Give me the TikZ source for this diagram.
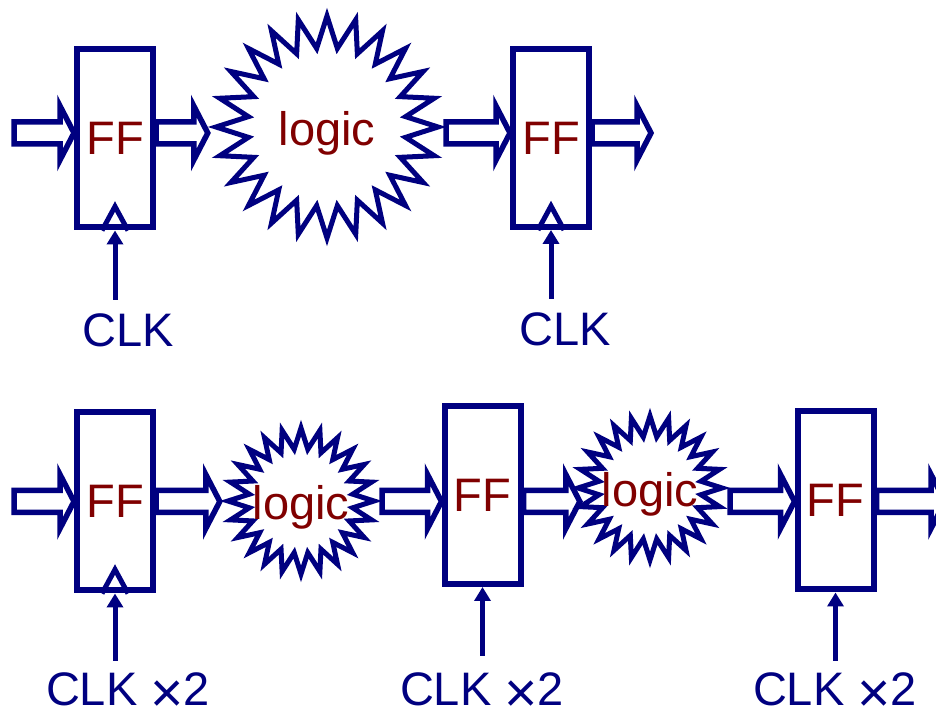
\documentclass[tikz,border=0pt]{standalone}
\usepackage{fontspec}
\setmainfont{Liberation Sans}
\usetikzlibrary{shapes.geometric, arrows.meta, calc}
\definecolor{wirenavy}{RGB}{0,0,128}
\definecolor{textmaroon}{RGB}{128,0,0}
% hollow bus arrow between two points on the same row
\newcommand{\busarrow}[2]{%
  \draw[bus] let \p1=(#1), \p2=(#2) in
    (\x1,\y2+11) -- (\x2-14,\y2+11) -- (\x2-14,\y2+27) -- (\x2,\y2)
    -- (\x2-14,\y2-27) -- (\x2-14,\y2-11) -- (\x1,\y2-11) -- cycle;}
\newcommand{\timestwo}{\raisebox{-7pt}[0pt][0pt]{\fontsize{57}{57}\selectfont ×}2}

\begin{document}
\begin{tikzpicture}[
    x=1pt, y=1pt,
    ffbox/.style={rectangle, draw=wirenavy, line width=6pt, inner sep=0pt,
        minimum width=76pt, minimum height=178pt,
        font=\fontsize{47}{50}\selectfont, text=textmaroon},
    burst/.style={star, star points=24, star point ratio=1.4, draw=wirenavy,
        line width=5pt, inner sep=0pt},
    logictext/.style={font=\fontsize{47}{50}\selectfont, text=textmaroon, yshift=-6pt},
    clk/.style={anchor=base, inner sep=0pt, font=\fontsize{47}{50}\selectfont, text=wirenavy},
    bus/.style={draw=wirenavy, line width=5.5pt},
    clkarrow/.style={-{Triangle[length=14pt,width=16pt]}, draw=wirenavy, line width=5pt},
    clkedge/.style={draw=wirenavy, line width=5pt}
]
\useasboundingbox (0,0) rectangle (936,714);
\clip (0,0) rectangle (936,714);
\coordinate (row1) at (0,581);
\coordinate (row2) at (0,212.5);

% one stage at the normal clock
\node[ffbox] (ff1) at (115,575.5) {FF};
\node[burst, minimum size=222pt, label={[logictext]center:logic}] (logic1) at (327,587) {};
\node[ffbox] (ff2) at (551,576) {FF};
\node[clk] (clk1) at (128,367) {CLK};
\node[clk] (clk2) at (565,368) {CLK};
\coordinate (in1) at (14,581);
\coordinate (out2) at (651,581);
\busarrow{in1}{ff1.west |- row1}
\busarrow{ff1.east |- row1}{logic1.west |- row1}
\busarrow{logic1.east |- row1}{ff2.west |- row1}
\busarrow{ff2.east |- row1}{out2}
\draw[clkedge] ([xshift=-13pt]ff1.south) -- ([yshift=24pt]ff1.south) -- ([xshift=13pt]ff1.south);
\draw[clkedge] ([xshift=-13pt]ff2.south) -- ([yshift=24pt]ff2.south) -- ([xshift=13pt]ff2.south);
\draw[clkarrow] (clk1.north -| ff1.south) ++(0,14) -- (ff1.south);
\draw[clkarrow] (clk2.north -| ff2.south) ++(0,14) -- (ff2.south);

% two stages at double clock
\node[ffbox] (ff3) at (115,212.5) {FF};
\node[burst, minimum size=146pt, label={[logictext]center:logic}] (logic2) at (301,213) {};
\node[ffbox] (ff4) at (482.5,219) {FF};
\node[burst, minimum size=144pt, label={[logictext]center:logic}] (logic3) at (650,226) {};
\node[ffbox] (ff5) at (835.5,213.5) {FF};
\node[clk] (clk3) at (128,8) {CLK \timestwo};
\node[clk] (clk4) at (482,8) {CLK \timestwo};
\node[clk] (clk5) at (835,8) {CLK \timestwo};
\coordinate (in3) at (14,212.5);
\coordinate (out5) at (945,212.5);
\busarrow{in3}{ff3.west |- row2}
\busarrow{ff3.east |- row2}{logic2.west |- row2}
\busarrow{logic2.east |- row2}{ff4.west |- row2}
\busarrow{ff4.east |- row2}{[xshift=10pt]logic3.west |- row2}
\busarrow{logic3.east |- row2}{ff5.west |- row2}
\busarrow{ff5.east |- row2}{out5}
\draw[clkedge] ([xshift=-13pt]ff3.south) -- ([yshift=24pt]ff3.south) -- ([xshift=13pt]ff3.south);
\draw[clkarrow] (clk3.north -| ff3.south) ++(0,12) -- (ff3.south);
\draw[clkarrow] (clk4.north -| ff4.south) ++(0,17) -- (ff4.south);
\draw[clkarrow] (clk5.north -| ff5.south) ++(0,12) -- (ff5.south);
\end{tikzpicture}
\end{document}
